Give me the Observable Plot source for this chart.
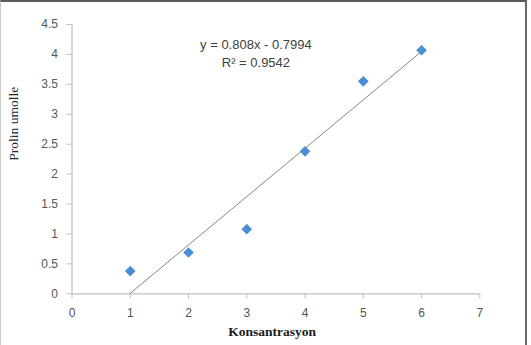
<!DOCTYPE html>
<html><head><meta charset="utf-8">
<script src="https://cdn.jsdelivr.net/npm/d3@7"></script>
<script src="https://cdn.jsdelivr.net/npm/@observablehq/plot@0.6"></script>
<style>
html,body{margin:0;padding:0;background:#fff;overflow:hidden;}
#wrap{position:relative;width:531px;height:345px;}
#border{position:absolute;left:0;top:0;width:527px;height:380px;border-left:1px solid #c8c8c8;border-top:2px solid #5a5a5a;border-right:2.5px solid #6a6a6a;pointer-events:none;box-sizing:border-box;}
</style></head>
<body>
<div id="wrap"><div id="chart"></div><div id="border"></div></div>
<script>
const konsantrasyon = [1, 2, 3, 4, 5, 6];
const prolin = [0.38, 0.69, 1.08, 2.38, 3.55, 4.07];
const slope = 0.808;
const intercept = -0.7994;
const trendRange = [1, 6];
const xTicks = [0, 1, 2, 3, 4, 5, 6, 7];
const yTicks = [0, 0.5, 1, 1.5, 2, 2.5, 3, 3.5, 4, 4.5];
const equationLabel = "y = 0.808x - 0.7994";
const r2Label = "R² = 0.9542";
const xTitle = "Konsantrasyon";
const yTitle = "Prolin umolle";

const points = konsantrasyon.map((x, i) => ({x, y: prolin[i]}));
const trend = trendRange.map(x => ({x, y: slope * x + intercept}));

const chart = Plot.plot({
  width: 531,
  height: 345,
  marginLeft: 71.5,
  marginRight: 51.7,
  marginTop: 24,
  marginBottom: 51.7,
  style: {fontFamily: "'Liberation Sans', Arial, sans-serif", fontSize: "12px", background: "white", color: "#595959"},
  x: {domain: [0, 7]},
  y: {domain: [0, 4.5]},
  marks: [
    Plot.ruleY([0], {stroke: "#bfbfbf", strokeWidth: 1.2}),
    Plot.ruleX([0], {stroke: "#bfbfbf", strokeWidth: 1.2}),
    Plot.axisX({ticks: xTicks, tickSize: 5, color: "#bfbfbf", tickFormat: () => "", label: null}),
    Plot.axisY({ticks: yTicks, tickSize: 5, color: "#bfbfbf", tickFormat: () => "", label: null}),
    Plot.axisX({ticks: xTicks, tickSize: 0, tickPadding: 15, color: "#555555", tickFormat: d => String(d), label: null}),
    Plot.axisY({ticks: yTicks, tickSize: 0, tickPadding: 14, color: "#555555", tickFormat: d => String(d), label: null}),
    Plot.line(trend, {x: "x", y: "y", stroke: "#858585", strokeWidth: 1}),
    Plot.dot(points, {x: "x", y: "y", symbol: "diamond2", r: 4.8, fill: "#4a8fd4", stroke: "none"}),
    Plot.text([equationLabel], {text: d => d, frameAnchor: "top", dx: -20, dy: 20, fontSize: 13, fill: "#404040", lineAnchor: "middle"}),
    Plot.text([r2Label], {text: d => d, frameAnchor: "top", dx: -20, dy: 38.7, fontSize: 13, fill: "#404040", lineAnchor: "middle"}),
    Plot.text([xTitle], {text: d => d, frameAnchor: "bottom", dx: -3.7, dy: 37.7, fontSize: 13.5, fontWeight: "bold", fontFamily: "'Liberation Serif', 'Times New Roman', serif", fill: "#1a1a1a", lineAnchor: "middle"}),
    Plot.text([yTitle], {text: d => d, frameAnchor: "left", dx: -58, dy: 1.5, rotate: -90, fontSize: 13.5, fontFamily: "'Liberation Serif', 'Times New Roman', serif", fill: "#262626", lineAnchor: "middle"})
  ]
});
document.getElementById("chart").appendChild(chart);
</script>
</body></html>
